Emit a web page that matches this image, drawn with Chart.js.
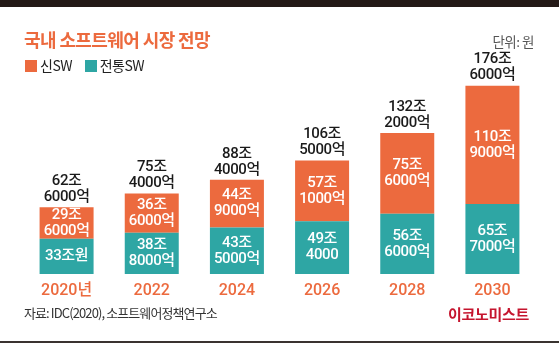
<!DOCTYPE html>
<html>
<head>
<meta charset="utf-8">
<script src="https://cdn.jsdelivr.net/npm/chart.js@4"></script>
<style>
  body { margin: 0; background: #fff; }
  #wrap { position: relative; width: 559px; height: 345px; overflow: hidden;
          font-family: "Noto Sans CJK KR", sans-serif; }
  #topbar { position: absolute; left: 0; top: 0; width: 559px; height: 7px; background: #241a17; }
  #bottombar { position: absolute; left: 0; top: 341px; width: 559px; height: 2px; background: #3a3330; }
  #title { position: absolute; left: 24px; top: 26px; font-size: 18px; font-weight: 700;
           color: #ec6a3e; letter-spacing: -0.6px; line-height: 26px; }
  #legend { position: absolute; left: 25px; top: 56px; font-size: 14px; color: #222;
            line-height: 18px; letter-spacing: -0.5px; }
  #legend span.box { display: inline-block; width: 12px; height: 12px; vertical-align: -1px; margin-right: 3px; }
  #legend span.item { margin-right: 10px; }
  #unit { position: absolute; right: 25px; top: 31px; font-size: 13.5px; color: #555; letter-spacing: -0.5px; }
  #source { position: absolute; left: 24px; top: 303px; font-size: 13px; color: #333; letter-spacing: -0.9px; }
  #logo { position: absolute; left: 448px; top: 303px; font-size: 15px; font-weight: 700;
          color: #c5152e; letter-spacing: -0.3px; }
  canvas { position: absolute; left: 0; top: 0; }
</style>
</head>
<body>
<div id="wrap">
  <canvas id="myChart" width="559" height="345"></canvas>
  <div id="topbar"></div>
  <div id="bottombar"></div>
  <div id="title">국내 소프트웨어 시장 전망</div>
  <div id="legend">
    <span class="item"><span class="box" style="background:#ec6a3e"></span>신SW</span>
    <span class="item"><span class="box" style="background:#2ea6a4"></span>전통SW</span>
  </div>
  <div id="unit">단위: 원</div>
  <div id="source">자료: IDC(2020), 소프트웨어정책연구소</div>
  <div id="logo">이코노미스트</div>
</div>
<script>
document.addEventListener("DOMContentLoaded", function () {

    const years = ["2020년", "2022", "2024", "2026", "2028", "2030"];

    // 조원 단위
    const oldSW = [33, 38.8, 43.5, 49.4, 56.6, 65.7];
    const newSW = [29.6, 36.6, 44.9, 57.1, 75.6, 110.9];

    const oldSWText = [["33조원"], ["38조", "8000억"], ["43조", "5000억"], ["49조", "4000"], ["56조", "6000억"], ["65조", "7000억"]];
    const newSWText = [["29조", "6000억"], ["36조", "6000억"], ["44조", "9000억"], ["57조", "1000억"], ["75조", "6000억"], ["110조", "9000억"]];
    const totalText = [["62조", "6000억"], ["75조", "4000억"], ["88조", "4000억"], ["106조", "5000억"], ["132조", "2000억"], ["176조", "6000억"]];

    const orange = "#ec6a3e";
    const teal = "#2ea6a4";
    const fontFamily = 'Roboto, "Noto Sans CJK KR", sans-serif';

    // draws the value texts inside and above the bars
    const labelPlugin = {
        id: "barLabels",
        afterDatasetsDraw(chart) {
            const ctx = chart.ctx;
            ctx.save();
            ctx.textAlign = "center";
            ctx.textBaseline = "middle";
            ctx.font = "500 15px " + fontFamily;
            if ("letterSpacing" in ctx) ctx.letterSpacing = "-0.4px";
            const texts = [oldSWText, newSWText];
            chart.data.datasets.forEach((ds, i) => {
                chart.getDatasetMeta(i).data.forEach((bar, j) => {
                    const lines = texts[i][j];
                    const mid = (bar.y + bar.base) / 2;
                    ctx.fillStyle = "#fff";
                    lines.forEach((t, k) => {
                        ctx.fillText(t, bar.x, mid + (k - (lines.length - 1) / 2) * 16);
                    });
                });
            });
            const top = chart.getDatasetMeta(1).data;
            top.forEach((bar, j) => {
                ctx.fillStyle = "#1a1a1a";
                ctx.fillText(totalText[j][0], bar.x, bar.y - 26);
                ctx.fillText(totalText[j][1], bar.x, bar.y - 10);
            });
            ctx.restore();
        }
    };

    const ctx = document.getElementById("myChart").getContext("2d");

    new Chart(ctx, {
        type: "bar",
        data: {
            labels: years,
            datasets: [
                {
                    label: "전통SW",
                    data: oldSW,
                    backgroundColor: teal,
                    barPercentage: 1,
                    categoryPercentage: 0.634
                },
                {
                    label: "신SW",
                    data: newSW,
                    backgroundColor: orange,
                    barPercentage: 1,
                    categoryPercentage: 0.634
                }
            ]
        },
        options: {
            responsive: false,
            animation: false,
            devicePixelRatio: 1,
            layout: { padding: { left: 24, right: 24, top: 0, bottom: 39 } },
            plugins: {
                legend: { display: false },
                tooltip: { enabled: false }
            },
            scales: {
                x: {
                    stacked: true,
                    grid: { display: false, drawTicks: false },
                    border: { display: false },
                    ticks: {
                        color: orange,
                        padding: 7,
                        font: { family: fontFamily, weight: "500", size: 16 }
                    },
                    afterFit: (scale) => { scale.height = 32; }
                },
                y: {
                    stacked: true,
                    display: false,
                    min: 0,
                    max: 257
                }
            }
        },
        plugins: [labelPlugin]
    });
});
</script>
</body>
</html>
